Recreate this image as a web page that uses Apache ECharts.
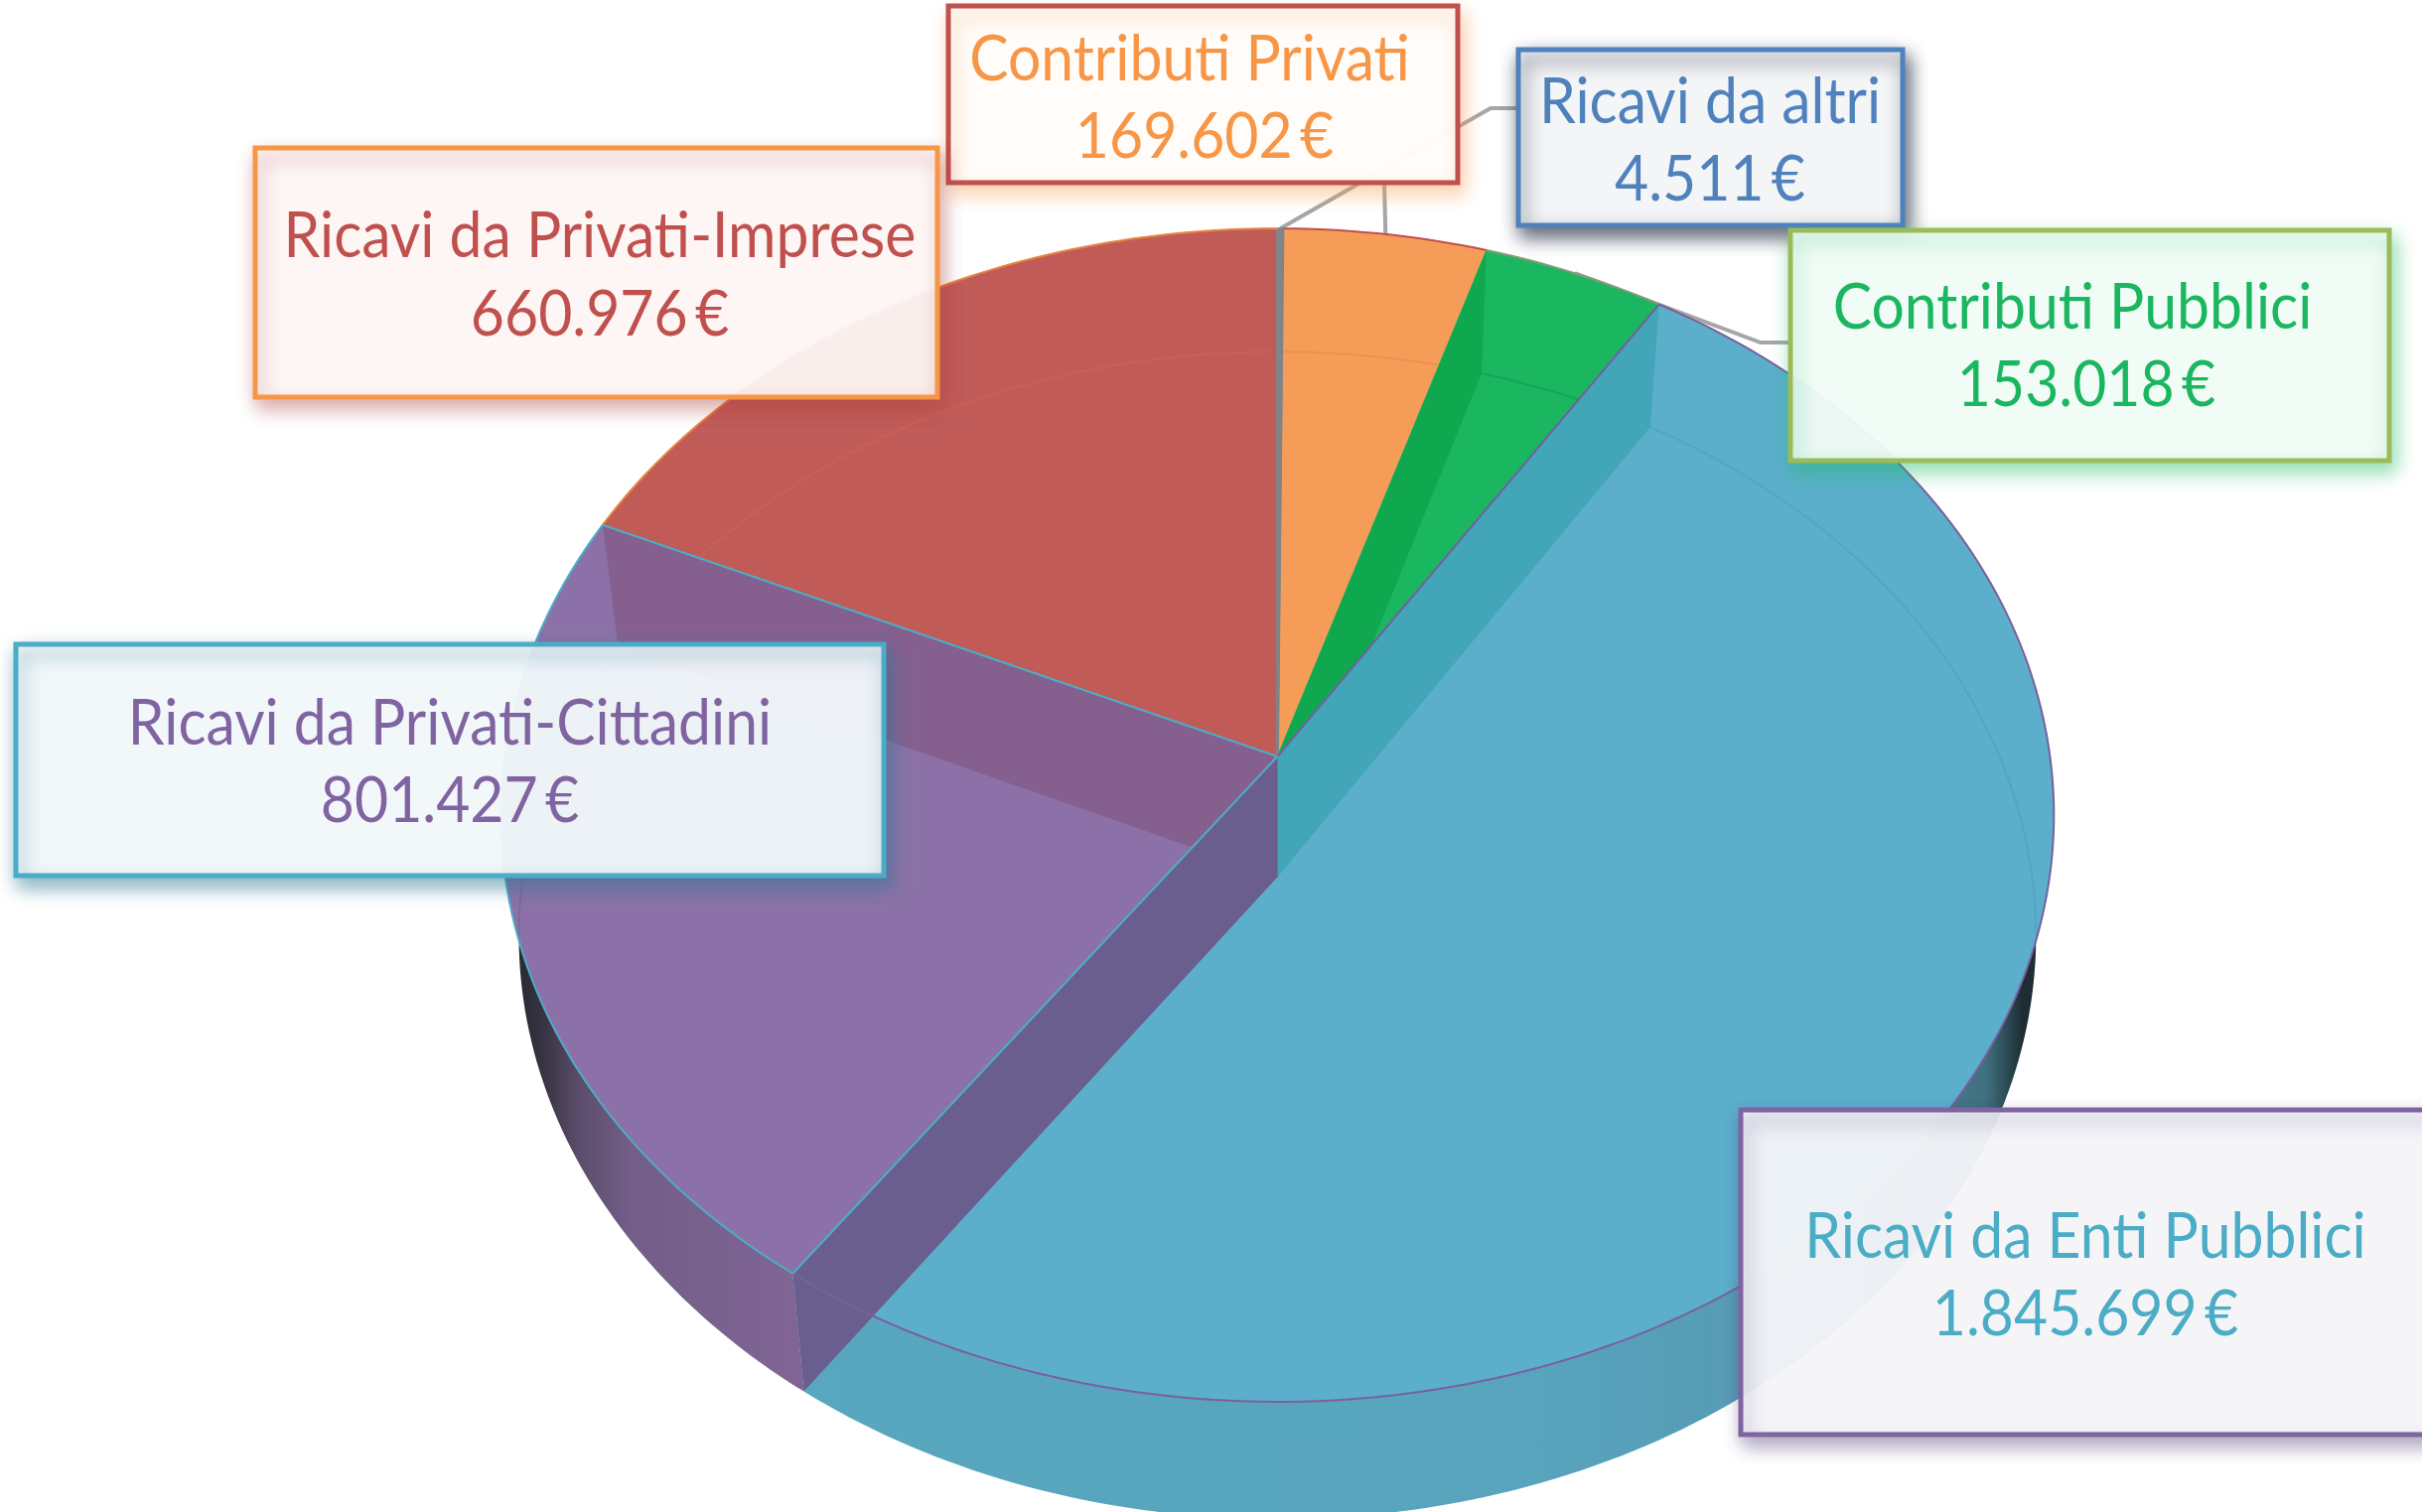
<!DOCTYPE html>
<html>
<head>
<meta charset="utf-8">
<style>
html, body { margin: 0; padding: 0; background: #fff; }
#chart { width: 2439px; height: 1523px; }
</style>
<script src="https://cdn.jsdelivr.net/npm/echarts@6/dist/echarts.min.js"></script>
</head>
<body>
<div id="chart"></div>
<script>
// values, clockwise from 12 o'clock
const categories = ['Ricavi da altri', 'Contributi Privati', 'Contributi Pubblici', 'Ricavi da Enti Pubblici', 'Ricavi da Privati-Cittadini', 'Ricavi da Privati-Imprese'];
const values = [4511, 169602, 153018, 1845699, 801427, 660976];

// styles, same order
const topColors = ['#7f868c', '#f59c58', '#1ab760', '#5bafcb', '#8b71a7', '#c05b58'];
const wallColors = ['#7f868c', '#7f868c', '#10a84e', '#42a6b8', '#6a5e8f', '#85608f'];
const wallOrder = [1, 1, 1, 3, 4, 2];
const edgeColors = ['#808488', '#808488', null, '#6f62a0', '#4baec6', '#4baec6'];
const rimColors = ['#808488', '#c0504d', '#8a9a78', '#7b5f9e', '#4baec6', '#e8843f'];
const innerRimColors = ['#7f868c', '#e98b4a', '#129f50', '#4fa3c2', '#7c6399', '#cd6450'];
const textColors = ['#4f81bd', '#f79646', '#1ab760', '#4bacc6', '#8064a2', '#c0504d'];
const borderColors = ['#4f81bd', '#c0504d', '#9bbb59', '#8064a2', '#4bacc6', '#f79646'];
const boxFills = ['rgba(249,250,251,.97)', 'rgba(255,253,251,.97)', 'rgba(250,254,252,.92)', 'rgba(251,252,253,.92)', 'rgba(251,253,254,.92)', 'rgba(255,252,251,.92)'];
const shadowColors = ['rgba(40,50,70,.8)', 'rgba(247,150,70,.45)', 'rgba(30,190,100,.5)', 'rgba(70,50,110,.45)', 'rgba(40,120,150,.6)', 'rgba(170,60,60,.45)'];

// box layout: x, y, w, h, text centre x for line 1 and 2, y for line 1 and 2
const boxes = [
    [1529, 50, 387, 177, 1722, 1722, 103, 181],
    [955, 6, 513, 178, 1198, 1213, 60, 138],
    [1803, 232, 603, 232, 2087, 2101, 310, 388],
    [1753, 1118, 720, 327, 2100, 2100, 1246, 1324],
    [16, 649, 874, 233, 453, 453, 729, 807],
    [257, 149, 687, 251, 604, 604, 238, 317]
];
const leaderBends = [
    [[1501, 109], [1529, 109]],
    [[1394, 184]],
    [[1773, 345], [1803, 345]],
    null, null, null
];

// perspective view of the disc
const CX = 1286.4, APEX_Y = 762, RX = 778, RY = 585, PERSP = 0.1;
const DEPTH = 121.5, LOW_SX = 0.977, LOW_SY = 0.995, BACK_LIMIT = 96;

const total = values.reduce((a, b) => a + b, 0);
const starts = [];
values.reduce((acc, v, i) => { starts[i] = acc; return acc + v / total * 360; }, 0);
const endOf = i => starts[i] + values[i] / total * 360;

function project(deg, low) {
    const r = deg * Math.PI / 180, u = Math.sin(r), v = Math.cos(r), w = 1 + PERSP * v;
    return low
        ? [CX + LOW_SX * RX * u / w, APEX_Y + DEPTH - LOW_SY * RY * v / w]
        : [CX + RX * u / w, APEX_Y - RY * v / w];
}
// bearing of a projected point seen from the apex of the top face
function bearing(p) {
    const b = Math.atan2(p[0] - CX, APEX_Y - p[1]) * 180 / Math.PI;
    return b < 0 ? b + 360 : b;
}
function arc(from, to, low, api) {
    const pts = [], n = Math.max(2, Math.ceil(Math.abs(to - from)));
    for (let k = 0; k <= n; k++) pts.push(api.coord(project(from + (to - from) * k / n, low)));
    return pts;
}
const apex = (low, api) => api.coord([CX, low ? APEX_Y + DEPTH : APEX_Y]);

function sliceSeries(z, draw) {
    return {
        type: 'custom', coordinateSystem: 'cartesian2d', z: z, silent: true, clip: false,
        data: values.map((v, i) => [i, v]),
        renderItem: function (params, api) {
            return { type: 'group', children: draw(params.dataIndex, api) };
        }
    };
}

const sideGradients = {
    3: new echarts.graphic.LinearGradient(800, 0, 2050, 0, [
        { offset: 0, color: '#57a7bf' }, { offset: 0.6, color: '#58a4bd' }, { offset: 0.79, color: '#5799b3' },
        { offset: 0.96, color: '#3f7080' }, { offset: 0.99, color: '#1e2c33' }, { offset: 1, color: '#1e2c33' }
    ], true),
    4: new echarts.graphic.LinearGradient(529, 0, 793, 0, [
        { offset: 0, color: '#2c2b38' }, { offset: 0.08, color: '#3a3545' }, { offset: 0.2, color: '#5a4c6a' },
        { offset: 0.4, color: '#735e88' }, { offset: 1, color: '#7f6494' }
    ], true)
};

const leaderSeries = sliceSeries(1, function (i, api) {
    if (!leaderBends[i]) return [];
    const mid = (starts[i] + endOf(i)) / 2;
    const pts = [api.coord(project(mid, false))].concat(leaderBends[i].map(p => api.coord(p)));
    return [{ type: 'polyline', shape: { points: pts }, style: { fill: null, stroke: '#a6a6a6', lineWidth: 4 } }];
});

const sideSeries = sliceSeries(2, function (i, api) {
    const from = Math.max(starts[i], BACK_LIMIT);
    const to = Math.min(endOf(i), 360 - BACK_LIMIT);
    if (to <= from) return [];
    const pts = arc(from, to, false, api).concat(arc(to, from, true, api));
    return [{ type: 'polygon', shape: { points: pts }, style: { fill: sideGradients[i] } }];
});

const topSeries = sliceSeries(3, function (i, api) {
    const pts = [apex(false, api)].concat(arc(starts[i], endOf(i), false, api));
    return [{ type: 'polygon', shape: { points: pts }, style: { fill: topColors[i], stroke: topColors[i], lineWidth: 1 } }];
});

const wallSeries = sliceSeries(4, function (i, api) {
    const a = starts[i];
    const pts = [apex(false, api), api.coord(project(a, false)), api.coord(project(a, true)), apex(true, api)];
    return [{ type: 'polygon', z2: wallOrder[i], shape: { points: pts }, style: { fill: wallColors[i] } }];
});

const rimSeries = sliceSeries(5, function (i, api) {
    const out = [];
    // far edge of the lower face, seen only inside the slice's own top face
    const bFrom = bearing(project(starts[i], false)), bTo = bearing(project(endOf(i), false)) || 360;
    const inner = [];
    for (let a = starts[i]; a <= endOf(i); a += 0.5) {
        if (a > BACK_LIMIT && a < 360 - BACK_LIMIT) continue;
        const p = project(a, true), b = bearing(p);
        if (b >= bFrom && b <= bTo) inner.push(api.coord(p));
    }
    if (inner.length > 1) {
        out.push({ type: 'polyline', shape: { points: inner },
            style: { fill: null, stroke: innerRimColors[i], lineWidth: 2, opacity: 0.7 } });
    }
    out.push({ type: 'polyline', shape: { points: arc(starts[i], endOf(i), false, api) },
        style: { fill: null, stroke: rimColors[i], lineWidth: 2 } });
    if (edgeColors[i]) {
        const p = apex(false, api), q = api.coord(project(starts[i], false));
        out.push({ type: 'line', shape: { x1: p[0], y1: p[1], x2: q[0], y2: q[1] },
            style: { stroke: edgeColors[i], lineWidth: i < 2 ? 3 : 2 } });
    }
    return out;
});

const euro = v => String(v).replace(/\B(?=(\d{3})+$)/g, '.') + '\u2009€';
const labelFont = '64px Lato';
const labelScale = 0.92;

const elements = [];
categories.forEach(function (name, i) {
    const b = boxes[i];
    elements.push({
        type: 'rect', z: 100, silent: true,
        shape: { x: b[0], y: b[1], width: b[2], height: b[3] },
        style: { fill: boxFills[i], stroke: borderColors[i], lineWidth: 5,
            shadowBlur: 18, shadowOffsetX: 4, shadowOffsetY: 9, shadowColor: shadowColors[i] }
    });
    [name, euro(values[i])].forEach(function (txt, k) {
        elements.push({
            type: 'text', z: 101, silent: true,
            x: b[4 + k], y: b[6 + k], scaleX: labelScale,
            style: { text: txt, font: labelFont, fill: textColors[i], align: 'center', verticalAlign: 'middle' }
        });
    });
});

const chart = echarts.init(document.getElementById('chart'));
chart.setOption({
    animation: false,
    backgroundColor: '#ffffff',
    grid: { left: 0, right: 0, top: 0, bottom: 0 },
    xAxis: { type: 'value', min: 0, max: 2439, show: false },
    yAxis: { type: 'value', min: 0, max: 1523, inverse: true, show: false },
    series: [leaderSeries, sideSeries, topSeries, wallSeries, rimSeries],
    graphic: { elements: elements }
});
window.addEventListener('resize', function () {
    chart.resize();
});
</script>
</body>
</html>
